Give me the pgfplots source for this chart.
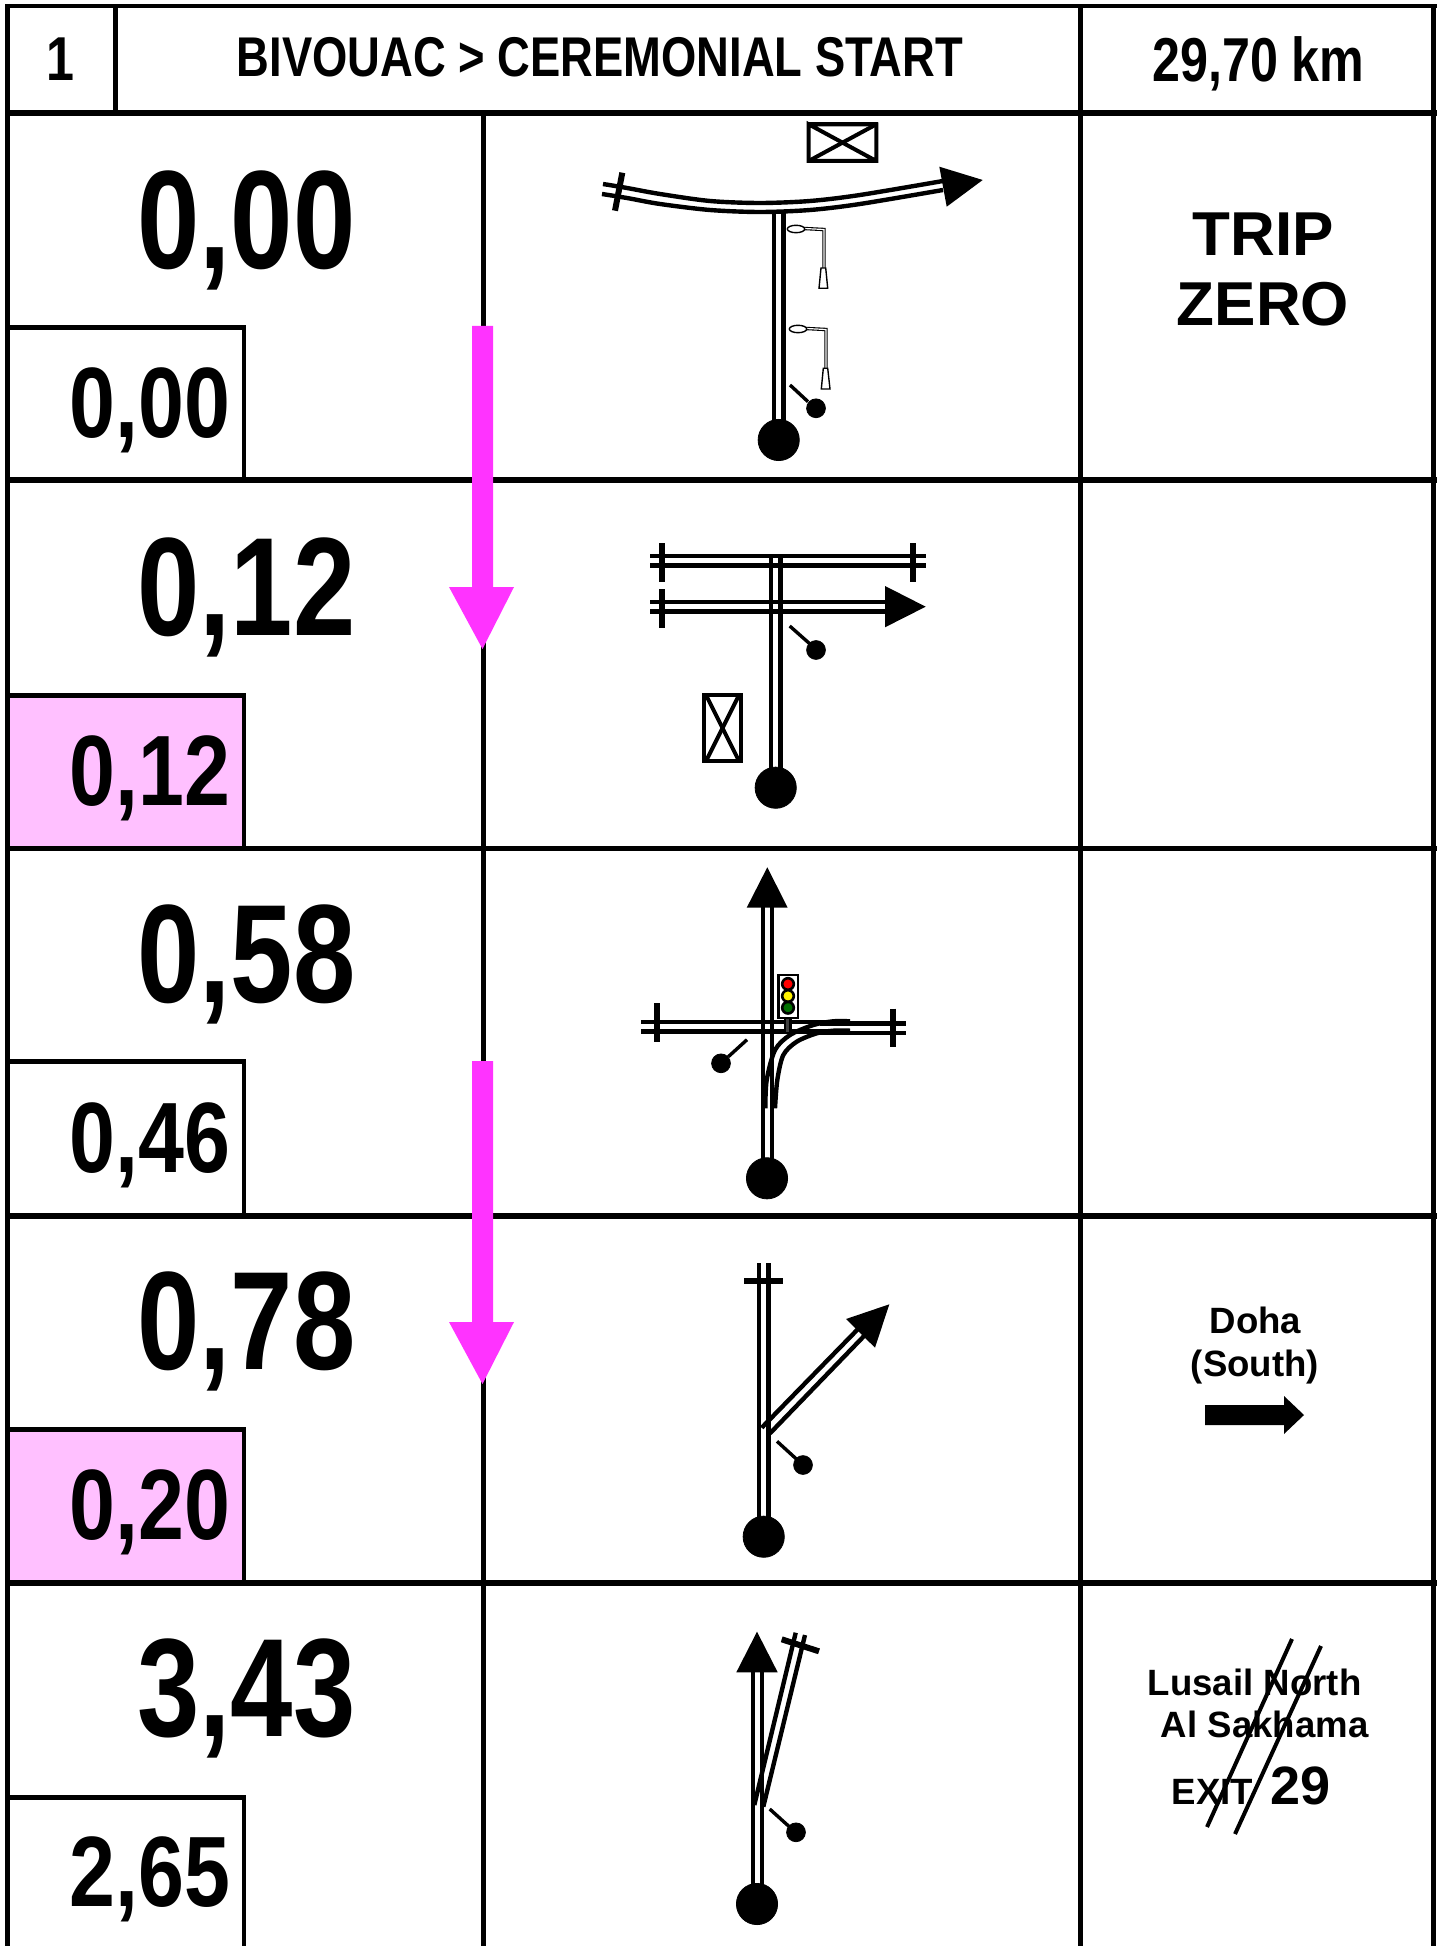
\documentclass[border=0pt]{standalone}
\usepackage{fontspec}
\usepackage{pgfplots}
\pgfplotsset{compat=1.18}
\setmainfont{Liberation Sans}
\newfontfamily\narb[FakeStretch=0.8]{Liberation Sans Bold}
\newfontfamily\narc[FakeStretch=0.825]{Liberation Sans Bold}
\newfontfamily\narh[FakeStretch=0.81]{Liberation Sans Bold}
\newfontfamily\reg{Liberation Sans Bold}
\definecolor{pinkbox}{HTML}{FFC0FF}
\definecolor{magarrow}{HTML}{FF33FF}
\definecolor{lightgreen}{HTML}{007000}
% 1 px of the reference = 0.5pt
\tikzset{
  big/.style={font=\narb\fontsize{70}{70}\selectfont,anchor=base west,inner sep=0pt},
  small/.style={font=\narc\fontsize{50}{50}\selectfont,anchor=base west,inner sep=0pt},
  head/.style={font=\narh\fontsize{28}{28}\selectfont,anchor=base,inner sep=0pt},
  sign/.style={font=\reg\fontsize{18.3}{18.3}\selectfont,anchor=base west,inner sep=0pt},
  trip/.style={font=\reg\fontsize{31}{31}\selectfont,anchor=base,inner sep=0pt},
}
\pgfplotsset{
  grid line/.style={black,line width=2.7pt},
  box line/.style={black,line width=2.3pt},
  road/.style={black,line width=2.2pt},
  bar/.style={black,line width=3pt},
  ptr/.style={black,line width=1.7pt},
  solid tri/.style={fill=black,draw=none},
  bigdot/.style={only marks,mark=*,mark size=10.3pt,mark options={fill=black,draw=none}},
  smalldot/.style={only marks,mark=*,mark size=4.7pt,mark options={fill=black,draw=none}},
  lamp/.style={only marks,mark=*,mark size=1.85pt,mark options={xscale=2.35,fill=white,draw=black,line width=.7pt}},
  light/.style={only marks,mark=*,mark size=2.9pt,mark options={fill=#1,draw=black,line width=1.3pt}},
}
\begin{document}
\begin{tikzpicture}
\useasboundingbox (0,0) rectangle (721pt,973pt);
\begin{axis}[
    width=721pt,height=973pt,scale only axis,
    at={(0,0)},anchor=south west,
    xmin=0,xmax=1442,ymin=0,ymax=1946,y dir=reverse,
    hide axis,
]
% pink boxes
\addplot[fill=pinkbox,draw=none] coordinates {(7,695) (244,695) (244,849) (7,849)} --cycle;
\addplot[fill=pinkbox,draw=none] coordinates {(7,1428) (244,1428) (244,1583) (7,1583)} --cycle;

% frame
\addplot[black,line width=2.25pt] coordinates {(7.3,4) (7.3,1946)};
\addplot[black,line width=2.2pt] coordinates {(5,6.2) (1436.7,6.2)};
\addplot[grid line] coordinates {(115.5,6) (115.5,116)};
\addplot[black,line width=2.8pt] coordinates {(5,113) (1436.7,113)};
\addplot[grid line] coordinates {(483.5,113) (483.5,1946)};
\addplot[grid line] coordinates {(1080.3,6) (1080.3,1946)};
\addplot[grid line] coordinates {(1433.7,6) (1433.7,1946)};
\addplot[grid line] coordinates {(5,480) (1436.7,480)};
\addplot[grid line] coordinates {(5,848.5) (1436.7,848.5)};
\addplot[grid line] coordinates {(5,1216) (1436.7,1216)};
\addplot[grid line] coordinates {(5,1583) (1436.7,1583)};
% odometer boxes
\addplot[box line] coordinates {(7,327.5) (244,327.5) (244,481)};
\addplot[box line] coordinates {(7,695.5) (244,695.5) (244,849)};
\addplot[box line] coordinates {(7,1061.5) (244,1061.5) (244,1217)};
\addplot[box line] coordinates {(7,1429.5) (244,1429.5) (244,1584)};
\addplot[box line] coordinates {(7,1797.5) (244,1797.5) (244,1946)};

% magenta arrows
\addplot[fill=magarrow,draw=none] coordinates {(472,326) (493,326) (493,587) (514,587) (482.5,649) (449,587) (472,587)} --cycle;
\addplot[fill=magarrow,draw=none] coordinates {(472,1061) (493,1061) (493,1322) (514,1322) (482.5,1384) (449,1322) (472,1322)} --cycle;

% row 1 diagram
\addplot[road,smooth] coordinates {(603,184) (627,188) (660,194) (710,201) (760,203) (810,201) (860,195) (943,181)};
\addplot[road,smooth] coordinates {(602,194) (627,198) (660,204) (710,210) (760,212) (810,210) (860,204) (943,190)};
\addplot[bar] coordinates {(622.3,172.7) (615,210.7)};
\addplot[solid tri] coordinates {(939.3,166.7) (982.7,180) (946.7,206.7)} --cycle;
\addplot[road] coordinates {(774,213) (774,425)};
\addplot[road] coordinates {(783.3,213) (783.3,425)};
\addplot[bigdot] coordinates {(778.7,440)};
\addplot[ptr] coordinates {(790,385) (808,401.7)};
\addplot[smalldot] coordinates {(816,408.3)};
\addplot[black,line width=2pt] coordinates {(808.7,124.3) (876.3,124.3) (876.3,161) (808.7,161) (808.7,124.3) (876.3,161)};
\addplot[black,line width=2pt] coordinates {(808.7,161) (876.3,124.3)};
\addplot[black,line width=2pt] coordinates {(807,124.3) (878,124.3)};
% lamp posts
\addplot[black,line width=1.7pt] coordinates {(804,228.5) (824,229.5) (824,268)};
\addplot[white,line width=.6pt] coordinates {(804,228.5) (824,229.5) (824,268)};
\addplot[black,line width=1.7pt] coordinates {(806,328.5) (826,329.5) (826,368)};
\addplot[white,line width=.6pt] coordinates {(806,328.5) (826,329.5) (826,368)};
\addplot[lamp] coordinates {(796,229) (798,329)};
\addplot[fill=white,draw=black,line width=.7pt] coordinates {(821,268) (825.7,268) (827.7,288.3) (819,288.3)} --cycle;
\addplot[fill=white,draw=black,line width=.7pt] coordinates {(823.3,368.3) (827.7,368.3) (830,389) (821.3,389)} --cycle;

% row 2 diagram
\addplot[road] coordinates {(650,556) (926,556)};
\addplot[road] coordinates {(650,565.3) (926,565.3)};
\addplot[road] coordinates {(650,602) (887,602)};
\addplot[road] coordinates {(650,611.3) (887,611.3)};
\addplot[solid tri] coordinates {(885,586) (925.7,606.7) (885,627.3)} --cycle;
\addplot[bar] coordinates {(662.3,543.3) (662.3,581.7)};
\addplot[bar] coordinates {(662.3,589.3) (662.3,627.7)};
\addplot[bar] coordinates {(913.3,543.3) (913.3,581.7)};
\addplot[road] coordinates {(771,556.7) (771,772)};
\addplot[road] coordinates {(780.3,556.7) (780.3,772)};
\addplot[bigdot] coordinates {(775.7,787.7)};
\addplot[ptr] coordinates {(789.7,626) (810,644)};
\addplot[smalldot] coordinates {(816,650)};
\addplot[black,line width=2pt] coordinates {(703.7,693) (703.7,763)};
\addplot[black,line width=2pt] coordinates {(741,693) (741,763)};
\addplot[black,line width=2pt] coordinates {(702,695) (743,695)};
\addplot[black,line width=2pt] coordinates {(702,761) (743,761)};
\addplot[black,line width=2pt] coordinates {(706,695) (739,761)};
\addplot[black,line width=2pt] coordinates {(739,695) (706,761)};

% row 3 diagram
\addplot[road] coordinates {(762.7,906.7) (762.7,1162)};
\addplot[road] coordinates {(772,906.7) (772,1162)};
\addplot[solid tri] coordinates {(767.3,867.3) (787.7,907.7) (746.7,907.7)} --cycle;
\addplot[bigdot] coordinates {(767,1178.3)};
\addplot[road] coordinates {(641,1022) (850,1022)};
\addplot[road] coordinates {(641,1031.3) (850,1031.3)};
\addplot[road] coordinates {(820,1023.3) (906,1023.3)};
\addplot[road] coordinates {(820,1032.7) (906,1032.7)};
\addplot[bar] coordinates {(656.7,1003.3) (656.7,1041.7)};
\addplot[bar] coordinates {(893,1008.7) (893,1046.7)};
\addplot[road,smooth] coordinates {(765.3,1108.3) (766.7,1080) (775,1050) (790,1035) (813.3,1025) (833.3,1021.3) (850,1021.3)};
\addplot[road,smooth] coordinates {(775,1108.3) (777.3,1080) (783.3,1055) (796.7,1041.7) (816.7,1033.3) (833.3,1030.7) (850,1030.7)};
\addplot[black,line width=4pt] coordinates {(787.7,1018) (787.7,1034)};
\addplot[black!75,line width=1.5pt] coordinates {(787.7,1018) (787.7,1032)};
\addplot[fill=white,draw=black,line width=1.3pt] coordinates {(778.3,975) (798,975) (798,1018) (778.3,1018)} --cycle;
\addplot[light=red] coordinates {(788,984)};
\addplot[light=yellow] coordinates {(788,996)};
\addplot[light=lightgreen] coordinates {(788,1007.7)};
\addplot[ptr] coordinates {(747,1039.7) (728.3,1056.7)};
\addplot[smalldot] coordinates {(721,1063.3)};

% row 4 diagram
\addplot[road] coordinates {(759,1263.3) (759,1522)};
\addplot[road] coordinates {(768.3,1263.3) (768.3,1522)};
\addplot[bar] coordinates {(744,1281) (783.3,1281)};
\addplot[bigdot] coordinates {(763.7,1536.7)};
\addplot[road] coordinates {(761.7,1427.7) (858,1329)};
\addplot[road] coordinates {(770,1433.3) (865,1335)};
\addplot[solid tri] coordinates {(889.3,1304.3) (846,1319) (875,1347.7)} --cycle;
\addplot[ptr] coordinates {(777,1441.3) (796.7,1459.3)};
\addplot[smalldot] coordinates {(803,1465)};

% row 5 diagram
\addplot[road] coordinates {(752.7,1671.7) (752.7,1888)};
\addplot[road] coordinates {(762,1671.7) (762,1888)};
\addplot[solid tri] coordinates {(757,1631.7) (777.7,1672.3) (736.3,1672.3)} --cycle;
\addplot[bigdot] coordinates {(757,1904)};
\addplot[road] coordinates {(754.3,1805) (795.7,1632.7)};
\addplot[road] coordinates {(763.3,1806.7) (805,1635)};
\addplot[bar] coordinates {(781.7,1639.3) (819,1651.3)};
\addplot[ptr] coordinates {(769.7,1809) (789.3,1826.7)};
\addplot[smalldot] coordinates {(796,1832.3)};

% right column symbols
\addplot[solid tri] coordinates {(1205,1405) (1284,1405) (1284,1396) (1304,1415) (1284,1434) (1284,1425) (1205,1425)} --cycle;
\addplot[black,line width=2pt] coordinates {(1292,1639) (1207,1827)};
\addplot[black,line width=2pt] coordinates {(1321,1646) (1235,1834)};

% header text
\node[head,font=\narh\fontsize{31}{31}\selectfont] at (axis cs:60.5,81) {1};
\node[head] at (axis cs:600,77) {BIVOUAC > CEREMONIAL START};
\node[head,font=\narh\fontsize{31}{31}\selectfont] at (axis cs:1258.5,82) {29,70 km};

% cumulative distance
\node[big] at (axis cs:137,268.5) {0,00};
\node[big] at (axis cs:137,635.5) {0,12};
\node[big] at (axis cs:137,1002.5) {0,58};
\node[big] at (axis cs:137,1369.5) {0,78};
\node[big] at (axis cs:137,1736.5) {3,43};
% partial distance
\node[small] at (axis cs:69.5,438) {0,00};
\node[small] at (axis cs:69.5,805) {0,12};
\node[small] at (axis cs:69.5,1172) {0,46};
\node[small] at (axis cs:69.5,1539) {0,20};
\node[small] at (axis cs:69.5,1906) {2,65};

% notes
\node[trip] at (axis cs:1263,255.5) {TRIP};
\node[trip] at (axis cs:1263,325.5) {ZERO};
\node[sign,anchor=base] at (axis cs:1255.5,1333) {Doha};
\node[sign,anchor=base] at (axis cs:1255,1376) {(South)};
\node[sign] at (axis cs:1147.5,1695) {Lusail North};
\node[sign] at (axis cs:1160.5,1737) {Al Sakhama};
\node[sign] at (axis cs:1171.5,1804) {EXIT};
\node[sign,font=\reg\fontsize{27}{27}\selectfont] at (axis cs:1270.5,1804) {29};
\end{axis}
\end{tikzpicture}
\end{document}
